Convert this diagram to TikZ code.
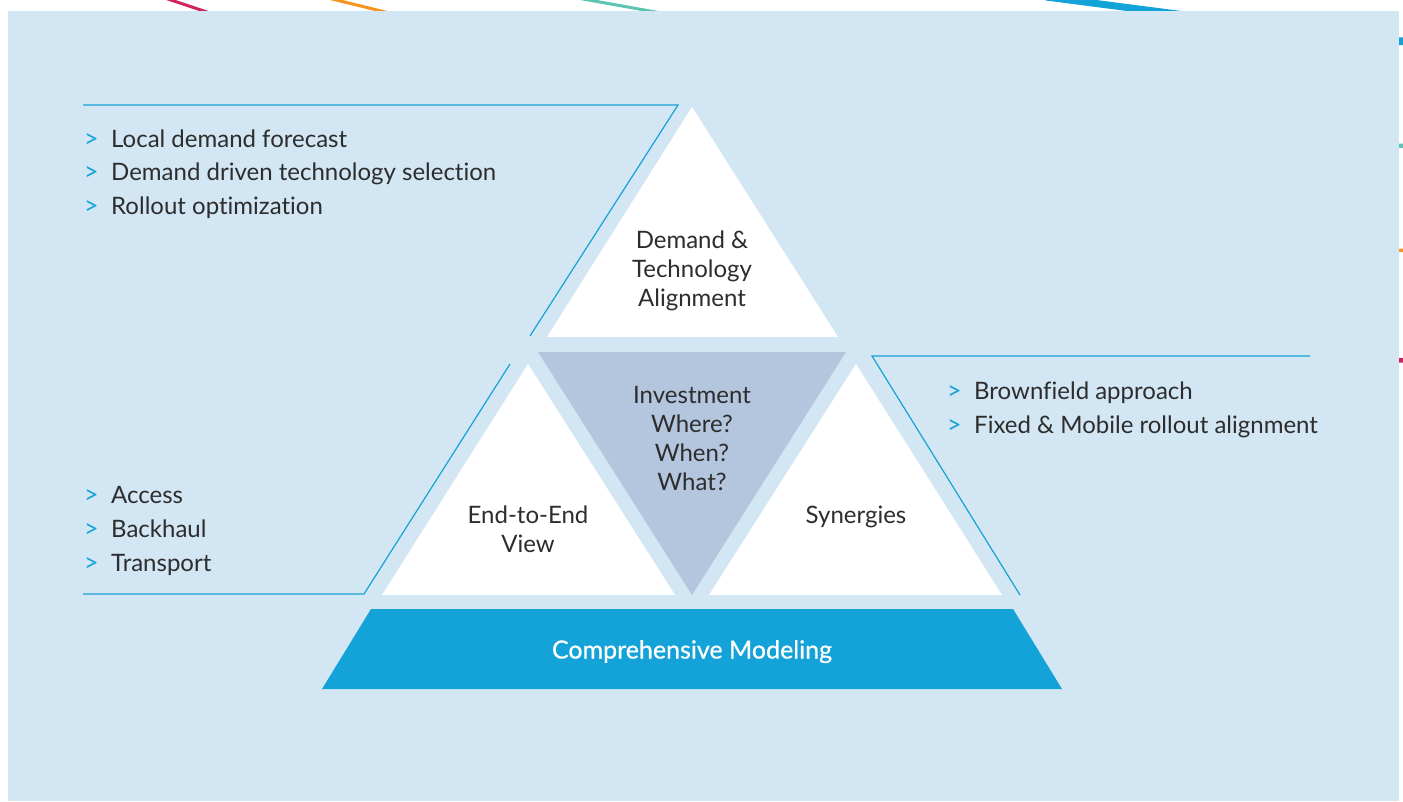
\documentclass[tikz,border=0pt]{standalone}
\usepackage{fontspec}
\setmainfont{Lato}[Ligatures=NoCommon]
\definecolor{bgblue}{RGB}{211,230,243}
\definecolor{accent}{RGB}{20,163,216}
\definecolor{slate}{RGB}{180,198,222}
\definecolor{ink}{RGB}{45,45,45}
\definecolor{stripepink}{RGB}{207,36,96}
\definecolor{stripeorange}{RGB}{247,148,30}
\definecolor{stripeteal}{RGB}{92,196,176}
\newcommand{\itemmark}{\makebox[27pt][l]{\fontsize{25}{25}\selectfont\textcolor{accent}{>}}}
\begin{document}
\begin{tikzpicture}[x=1pt,y=-1pt,
every node/.style={inner sep=0pt,text=ink,font=\fontsize{24}{29}\selectfont},
item/.style={anchor=base west},
tritext/.style={align=center},
frame/.style={draw=accent,line width=1.2pt}]
\useasboundingbox(0,0)rectangle(1403,801);
\draw[stripepink,line width=3pt](162,-3)--(237,22);
\draw[stripeorange,line width=3pt](324,-3)--(426,22);
\draw[stripeteal,line width=3pt](572,-3)--(711,22);
\draw[accent,line width=7pt](1046,-3)--(1239,22);
\draw[accent,line width=7.7pt](1390,41)--(1410,41.5);
\draw[stripeteal,line width=4.4pt](1390,145.5)--(1410,146);
\draw[stripeorange,line width=3.4pt](1390,250)--(1410,250.5);
\draw[stripepink,line width=4.6pt](1390,360)--(1410,360.5);
\fill[bgblue](8,11)rectangle(1399,801);
\draw[frame](83,105)--(678,105)--(530,336);
\draw[frame](83,594)--(364,594)--(510,364);
\draw[frame](1310,356)--(872,356)--(1020,595);
\fill[white](692,107)--(838,337)--(547,337)--cycle;
\fill[slate](538,352)--(846,352)--(692,595)--cycle;
\fill[white](528,364)--(675,595)--(382,595)--cycle;
\fill[white](856,364)--(1002,595)--(709,595)--cycle;
\fill[accent](371,609)--(1013,609)--(1062,689)--(322,689)--cycle;
\node[tritext](align)at(692,270.5){Demand \&\\Technology\\Alignment};
\node[tritext](invest)at(692,438){Investment\\Where?\\When?\\What?};
\node[tritext](endview)at(528,529.5){End-to-End\\View};
\node[anchor=base](synergy)at(856,523.5){Synergies};
\node[anchor=base,text=white,font=\fontsize{25}{29}\selectfont\addfontfeature{FakeBold=0.6}](model)at(692,658.5){Comprehensive Modeling};
\node[item](forecast)at(84,147.5){\itemmark Local demand forecast};
\node[item](techsel)at(84,180.5){\itemmark Demand driven technology selection};
\node[item](rollopt)at(84,214.5){\itemmark Rollout optimization};
\node[item](access)at(84,503.5){\itemmark Access};
\node[item](backhaul)at(84,537.5){\itemmark Backhaul};
\node[item](transport)at(84,571.5){\itemmark Transport};
\node[item](brownfield)at(947,399.5){\itemmark Brownfield approach};
\node[item](fixmob)at(947,433.5){\itemmark Fixed \& Mobile rollout alignment};
\end{tikzpicture}
\end{document}
